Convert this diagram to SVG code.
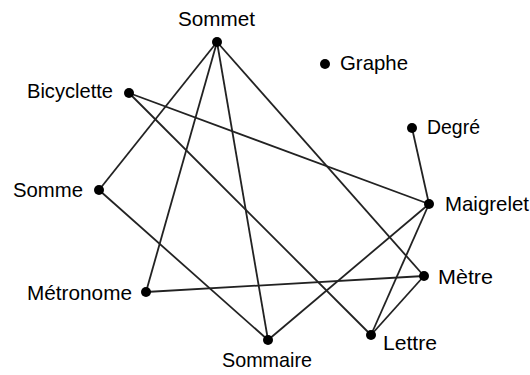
<svg xmlns="http://www.w3.org/2000/svg" width="530" height="375" viewBox="0 0 530 375">
<style>
.e{stroke:#222;stroke-width:1.8;fill:none}
.n{fill:#000}
text{font-family:"Liberation Sans",Arial,sans-serif;font-size:21px;fill:#000}
</style>
<rect width="530" height="375" fill="#fff"/>
<g id="connectors">
<line class="e" x1="217" y1="42" x2="99" y2="190"/>
<line class="e" x1="217" y1="42" x2="146" y2="292"/>
<line class="e" x1="217" y1="42" x2="268" y2="340"/>
<line class="e" x1="217" y1="42" x2="424" y2="276"/>
<line class="e" x1="129" y1="93" x2="429" y2="204"/>
<line class="e" x1="129" y1="93" x2="371" y2="335"/>
<line class="e" x1="412" y1="128" x2="429" y2="204"/>
<line class="e" x1="99" y1="190" x2="268" y2="340"/>
<line class="e" x1="146" y1="292" x2="424" y2="276"/>
<line class="e" x1="268" y1="340" x2="429" y2="204"/>
<line class="e" x1="429" y1="204" x2="371" y2="335"/>
<line class="e" x1="424" y1="276" x2="371" y2="335"/>
</g>
<g id="sommet"><circle class="n" cx="217" cy="42" r="5"/><text x="178" y="26" textLength="77" lengthAdjust="spacingAndGlyphs">Sommet</text></g>
<g id="graphe"><circle class="n" cx="325" cy="64" r="5"/><text x="340" y="70" textLength="68" lengthAdjust="spacingAndGlyphs">Graphe</text></g>
<g id="bicyclette"><circle class="n" cx="129" cy="93" r="5"/><text x="27" y="98" textLength="86" lengthAdjust="spacingAndGlyphs">Bicyclette</text></g>
<g id="degre"><circle class="n" cx="412" cy="128" r="5"/><text x="427" y="134" textLength="53" lengthAdjust="spacingAndGlyphs">Degré</text></g>
<g id="somme"><circle class="n" cx="99" cy="190" r="5"/><text x="13" y="197" textLength="70" lengthAdjust="spacingAndGlyphs">Somme</text></g>
<g id="maigrelet"><circle class="n" cx="429" cy="204" r="5"/><text x="445" y="211" textLength="84" lengthAdjust="spacingAndGlyphs">Maigrelet</text></g>
<g id="metre"><circle class="n" cx="424" cy="276" r="5"/><text x="438" y="284" textLength="55" lengthAdjust="spacingAndGlyphs">Mètre</text></g>
<g id="metronome"><circle class="n" cx="146" cy="292" r="5"/><text x="27" y="300" textLength="105" lengthAdjust="spacingAndGlyphs">Métronome</text></g>
<g id="sommaire"><circle class="n" cx="268" cy="340" r="5"/><text x="222" y="367" textLength="90" lengthAdjust="spacingAndGlyphs">Sommaire</text></g>
<g id="lettre"><circle class="n" cx="371" cy="335" r="5"/><text x="383" y="350" textLength="54" lengthAdjust="spacingAndGlyphs">Lettre</text></g>
</svg>
